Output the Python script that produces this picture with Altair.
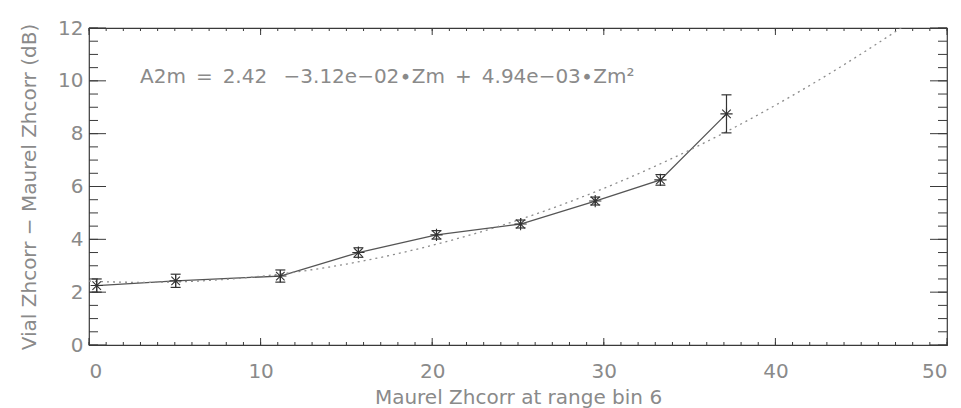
import altair as alt
import pandas as pd

# Measured points: Maurel Zhcorr (range bin 6) vs. Vial - Maurel difference
zm = [0.45, 5.05, 11.15, 15.7, 20.25, 25.15, 29.5, 33.3, 37.15]
diff = [2.25, 2.43, 2.61, 3.5, 4.17, 4.58, 5.45, 6.25, 8.75]
err = [0.25, 0.25, 0.23, 0.18, 0.16, 0.15, 0.15, 0.2, 0.72]

# Quadratic fit coefficients
c0, c1, c2 = 2.42, -3.12e-02, 4.94e-03
fit_x = [i * 0.5 for i in range(0, 101)]

x_major = [0, 10, 20, 30, 40, 50]
x_minor = list(range(0, 51))
y_major = [0, 2, 4, 6, 8, 10, 12]
y_minor = [i * 0.5 for i in range(0, 25)]

W, H = 858, 317
AX = "#3a3a3a"
TXT = "#8a8a8a"
FONT = "DejaVu Sans"

pts = pd.DataFrame({"zm": zm, "d": diff, "e": err})
pts["lo"] = pts["d"] - pts["e"]
pts["hi"] = pts["d"] + pts["e"]
fit = pd.DataFrame({"zm": fit_x})
fit["d"] = c0 + c1 * fit["zm"] + c2 * fit["zm"] ** 2

xs = alt.Scale(domain=[0, 50], nice=False, zero=False)
ys = alt.Scale(domain=[0, 12], nice=False, zero=False)

X = alt.X("zm:Q", scale=xs,
          axis=alt.Axis(values=x_major, title="Maurel Zhcorr at range bin 6",
                        domain=False, ticks=False, grid=False, labelPadding=16,
                        titlePadding=6))
Y = alt.Y("d:Q", scale=ys,
          axis=alt.Axis(values=y_major, title="Vial Zhcorr \u2212 Maurel Zhcorr (dB)",
                        domain=False, ticks=False, grid=False, labelPadding=6,
                        titlePadding=18))

base = alt.Chart(pts)

fit_line = alt.Chart(fit).mark_line(
    color="#8c8c8c", strokeDash=[2, 4], strokeWidth=1.3, clip=True
).encode(x=alt.X("zm:Q", scale=xs), y=alt.Y("d:Q", scale=ys))

data_line = base.mark_line(color="#555555", strokeWidth=1.3).encode(x=X, y=Y)

bars = base.mark_rule(color="#333333", strokeWidth=1.2).encode(
    x=alt.X("zm:Q", scale=xs), y=alt.Y("lo:Q", scale=ys), y2="hi:Q")

cap_shape = "M-1,0L1,0"
cap_lo = base.mark_point(shape=cap_shape, size=100, color="#333333",
                         strokeWidth=1.2, opacity=1).encode(
    x=alt.X("zm:Q", scale=xs), y=alt.Y("lo:Q", scale=ys))
cap_hi = base.mark_point(shape=cap_shape, size=100, color="#333333",
                         strokeWidth=1.2, opacity=1).encode(
    x=alt.X("zm:Q", scale=xs), y=alt.Y("hi:Q", scale=ys))

star = "M-1,0L1,0M0,-1L0,1M-0.7,-0.7L0.7,0.7M-0.7,0.7L0.7,-0.7"
stars = base.mark_point(shape=star, size=150, color="#333333",
                        strokeWidth=1.1, opacity=1).encode(
    x=alt.X("zm:Q", scale=xs), y=alt.Y("d:Q", scale=ys))

# Inward ticks on all four sides of the frame
def xticks(vals, length):
    df = pd.DataFrame({"t": vals})
    bottom = alt.Chart(df).mark_rule(color=AX, strokeWidth=1).encode(
        x=alt.X("t:Q", scale=xs), y=alt.value(H), y2=alt.value(H - length))
    top = alt.Chart(df).mark_rule(color=AX, strokeWidth=1).encode(
        x=alt.X("t:Q", scale=xs), y=alt.value(0), y2=alt.value(length))
    return bottom + top

def yticks(vals, length):
    df = pd.DataFrame({"t": vals})
    left = alt.Chart(df).mark_rule(color=AX, strokeWidth=1).encode(
        y=alt.Y("t:Q", scale=ys), x=alt.value(0), x2=alt.value(length))
    right = alt.Chart(df).mark_rule(color=AX, strokeWidth=1).encode(
        y=alt.Y("t:Q", scale=ys), x=alt.value(W), x2=alt.value(W - length))
    return left + right

ticks = (xticks(x_minor, 3) + xticks(x_major, 7)
         + yticks(y_minor, 9) + yticks(y_major, 17))

SP = "\u2002"
equation = ("A2m" + SP + "=" + SP + "2.42" + SP + " \u22123.12e\u221202\u2219Zm"
            + SP + "+" + SP + "4.94e\u221203\u2219Zm\u00b2")
eq = alt.Chart(pd.DataFrame({"s": [equation]})).mark_text(
    align="left", baseline="alphabetic", font=FONT, fontSize=20, color=TXT
).encode(x=alt.value(51), y=alt.value(55), text="s:N")

chart = alt.layer(
    data_line, fit_line, bars, cap_lo, cap_hi, stars, ticks, eq
).properties(
    width=W, height=H,
    background="white",
    autosize=alt.AutoSizeParams(type="none"),
    padding={"left": 89, "top": 28, "right": 14, "bottom": 63},
).configure_view(
    stroke=AX, strokeWidth=1.2
).configure_axis(
    labelFont=FONT, titleFont=FONT, labelFontSize=20, titleFontSize=20,
    labelColor=TXT, titleColor=TXT, titleFontWeight="normal"
)

chart.save("out.html", embed_options={"renderer": "svg", "actions": False})
